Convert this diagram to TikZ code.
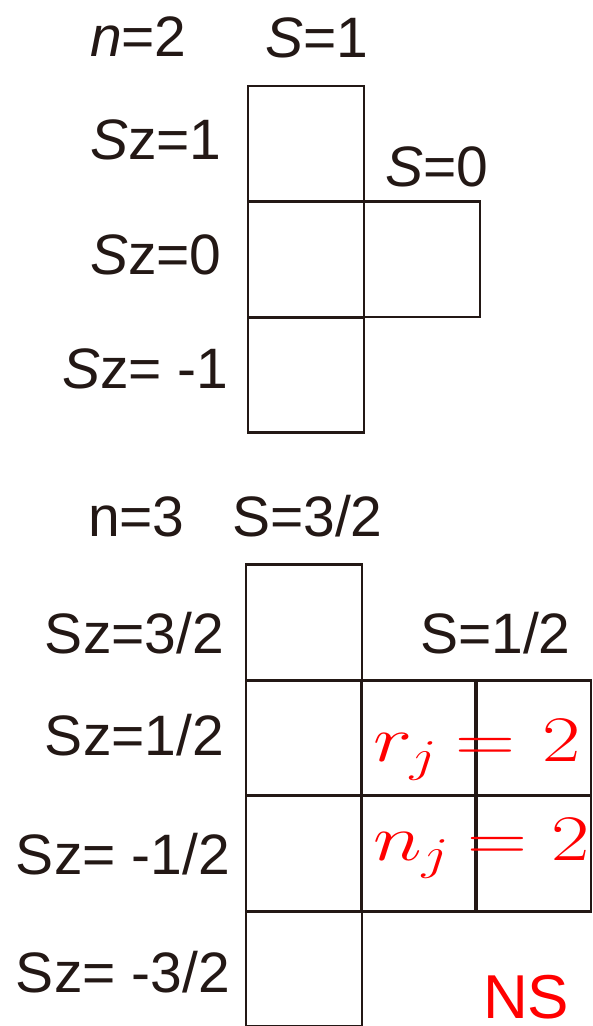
\documentclass[tikz,border=0pt]{standalone}
\usepackage{fix-cm}
\usepackage[no-math]{fontspec}
\setmainfont{Liberation Sans}
\usepackage{graphicx}
\definecolor{ink}{RGB}{35,24,21}
\definecolor{redt}{RGB}{255,0,0}
\tikzset{
  cell/.style={draw=ink, line width=2.8pt, minimum width=116pt, minimum height=115.5pt, inner sep=0pt, outer sep=0pt},
  lbl/.style={anchor=base west, inner sep=0pt, outer sep=0pt, text=ink, font=\fontsize{57}{60}\selectfont},
  mth/.style={anchor=base west, inner sep=0pt, outer sep=0pt, text=redt, font=\fontsize{65}{70}\selectfont},
}
\begin{document}
\begin{tikzpicture}[x=1pt,y=-1pt]
\useasboundingbox (0,0) rectangle (593,1026);
% n=2 diagram
\node[cell] (a1) at (306,143.75) {};
\node[cell] (a2) at (306,259.25) {};
\node[cell] (a3) at (306,375) {};
\node[cell] (b2) at (422,259.25) {};
\node[lbl] (n2) at (90,56.7) {\textit{n}=2};
\node[lbl] (S1) at (265,57) {\textit{S}=1};
\node[lbl] (sz1) at (90,159) {\textit{S}z=1};
\node[lbl] (sz0) at (90,274) {\textit{S}z=0};
\node[lbl] (szm1) at (62,388) {\textit{S}z= -1};
\node[lbl] (S0) at (385,186.7) {\textit{S}=0};
% n=3 diagram
\node[cell] (c1) at (304,622.5) {};
\node[cell] (c2) at (304,738.25) {};
\node[cell] (c3) at (304,853.5) {};
\node[cell] (c4) at (304,968.75) {};
\node[cell] (d2) at (419,738.25) {};
\node[cell] (d3) at (419,853.5) {};
\node[cell] (e2) at (533,738.25) {};
\node[cell] (e3) at (533,853.5) {};
\node[lbl] (n3) at (88,536) {n=3};
\node[lbl] (S32) at (232,536) {S=3/2};
\node[lbl] (sz32) at (45,653.5) {Sz=3/2};
\node[lbl] (S12) at (420,653.5) {S=1/2};
\node[lbl] (sz12) at (45,755) {Sz=1/2};
\node[lbl] (szm12) at (16,874) {Sz= -1/2};
\node[lbl] (szm32) at (16,992) {Sz= -3/2};
\node[lbl, text=redt, font=\fontsize{62}{66}\selectfont] (NS) at (483,1018) {NS};
\node[mth] (rj) at (373,761.7) {\scalebox{1.28}[1]{$r_j$}};
\node[mth] (eq1) at (455,761.7) {\scalebox{1.28}[1]{$=$}};
\node[mth] (two1) at (542,761.7) {\scalebox{1.28}[1]{$2$}};
\node[mth] (nj) at (373,860) {\scalebox{1.28}[1]{$n_j$}};
\node[mth] (eq2) at (467,860) {\scalebox{1.28}[1]{$=$}};
\node[mth] (two2) at (551,860) {\scalebox{1.28}[1]{$2$}};
\end{tikzpicture}
\end{document}
